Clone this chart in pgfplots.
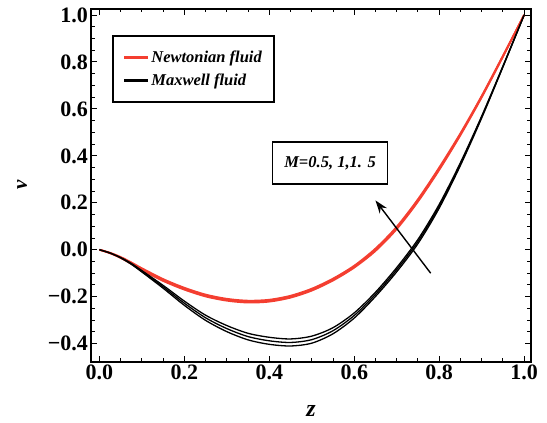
\documentclass[border=0pt]{standalone}
\usepackage{fontspec}
\setmainfont{Liberation Serif}
\usepackage{pgfplots}
\usepackage{pgfplotstable}
\pgfplotsset{compat=1.18}
\usetikzlibrary{arrows.meta}

\definecolor{newtred}{RGB}{244,62,48}

% velocity profiles v(z) for M = 0.5, 1, 1.5
\pgfplotstableread{
z      blo     bmid    bhi     rlo     rmid    rhi
0.000  0.000   0.000   0.000   0.000   0.000   0.000
0.025 -0.014  -0.014  -0.014  -0.015  -0.014  -0.013
0.050 -0.035  -0.034  -0.033  -0.035  -0.033  -0.031
0.075 -0.062  -0.060  -0.058  -0.060  -0.057  -0.054
0.100 -0.095  -0.092  -0.089  -0.087  -0.083  -0.079
0.150 -0.164  -0.158  -0.152  -0.133  -0.129  -0.125
0.200 -0.237  -0.228  -0.219  -0.170  -0.166  -0.162
0.250 -0.301  -0.290  -0.279  -0.199  -0.195  -0.191
0.300 -0.349  -0.336  -0.323  -0.217  -0.213  -0.209
0.350 -0.384  -0.370  -0.356  -0.225  -0.221  -0.217
0.400 -0.403  -0.388  -0.373  -0.221  -0.217  -0.213
0.450 -0.410  -0.395  -0.380  -0.204  -0.200  -0.196
0.500 -0.398  -0.383  -0.368  -0.174  -0.170  -0.166
0.550 -0.358  -0.345  -0.332  -0.131  -0.127  -0.123
0.600 -0.291  -0.280  -0.269  -0.076  -0.072  -0.068
0.650 -0.199  -0.190  -0.181  -0.005   0.000   0.005
0.700 -0.094  -0.085  -0.076   0.088   0.093   0.098
0.750  0.026   0.035   0.044   0.205   0.210   0.215
0.800  0.177   0.185   0.193   0.340   0.345   0.350
0.850  0.359   0.365   0.371   0.488   0.492   0.496
0.900  0.561   0.565   0.569   0.649   0.652   0.655
0.950  0.778   0.780   0.782   0.822   0.824   0.826
1.000  1.000   1.000   1.000   1.000   1.000   1.000
}\profiles

\begin{document}
\begin{tikzpicture}
\begin{axis}[
  name=ax,
  scale only axis,
  width=439.5bp, height=353bp,
  xmin=-0.019, xmax=1.016,
  ymin=-0.477, ymax=1.027,
  axis line style={line width=2.2bp},
  tick align=inside,
  xtick={0,0.2,0.4,0.6,0.8,1.0},
  ytick={-0.4,-0.2,0,0.2,0.4,0.6,0.8,1.0},
  xticklabels={0.0,0.2,0.4,0.6,0.8,1.0},
  yticklabels={−0.4,−0.2,0.0,0.2,0.4,0.6,0.8,1.0},
  minor x tick num=3, minor y tick num=3,
  major tick length=6bp, minor tick length=3.5bp,
  every tick/.style={black, line width=1bp},
  ticklabel style={font=\fontsize{22bp}{25bp}\selectfont\bfseries},
  xlabel={\textbf{\textit{z}}},
  ylabel={\textbf{\textit{v}}},
  xlabel style={font=\fontsize{24bp}{28bp}\selectfont},
  ylabel style={font=\fontsize{21bp}{25bp}\selectfont},
  xlabel shift=18bp,
  ylabel shift=14bp,
  legend style={at={(axis cs:0.03,0.914)}, anchor=north west,
    draw=black, line width=1.5bp,
    font=\fontsize{16.5bp}{19bp}\selectfont\bfseries\itshape,
    inner xsep=10bp, inner ysep=13bp, row sep=6bp,
    cells={anchor=west}},
  legend image code/.code={\draw[#1, line width=2.4bp] (0bp,0bp) -- (24bp,0bp);},
]
\addplot[newtred, line width=1.8bp, smooth] table[x=z, y=rmid] {\profiles};
\addlegendentry{Newtonian fluid}
\addplot[black, line width=1.3bp, smooth] table[x=z, y=bmid] {\profiles};
\addlegendentry{Maxwell fluid}
\addplot[newtred, line width=1.8bp, smooth, forget plot] table[x=z, y=rlo] {\profiles};
\addplot[newtred, line width=1.8bp, smooth, forget plot] table[x=z, y=rhi] {\profiles};
\addplot[black, line width=1.3bp, smooth, forget plot] table[x=z, y=blo] {\profiles};
\addplot[black, line width=1.3bp, smooth, forget plot] table[x=z, y=bhi] {\profiles};

\node[draw, line width=1.5bp, minimum width=115bp, minimum height=42bp,
      font=\fontsize{16.5bp}{19bp}\selectfont\bfseries\itshape, fill=white]
  at (axis cs:0.543,0.37) {M=0.5, 1,1. 5};
\draw[-{Stealth[length=13bp,width=9bp]}, line width=1.4bp]
  (axis cs:0.78,-0.1) -- (axis cs:0.65,0.21);
\end{axis}
\pgfresetboundingbox
\path (ax.south west) ++(-91.4bp,-61.3bp) rectangle ++(547bp,423bp);
\end{tikzpicture}
\end{document}
